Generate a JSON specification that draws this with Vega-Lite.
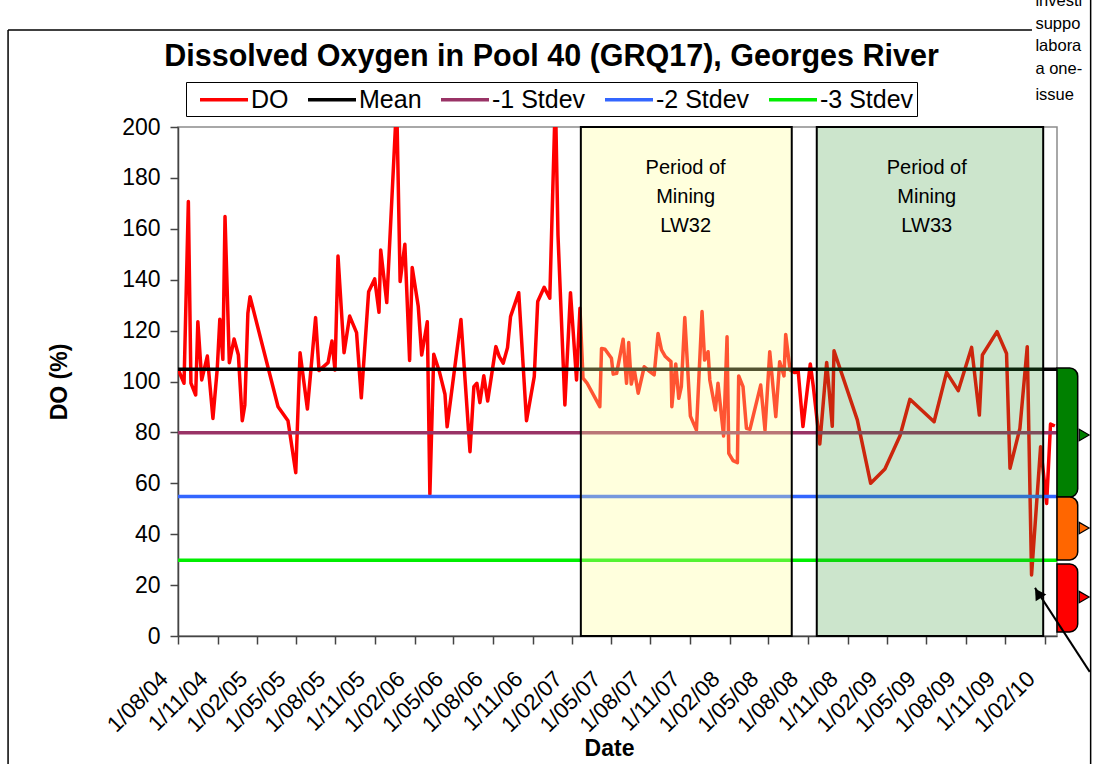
{
  "$schema": "https://vega.github.io/schema/vega-lite/v6.json",
  "width": 879,
  "height": 509,
  "autosize": {"type": "none"},
  "padding": {"left": 178, "top": 127, "right": 37, "bottom": 128},
  "background": "white",
  "title": {
    "text": "Dissolved Oxygen in Pool 40 (GRQ17), Georges River",
    "anchor": "middle",
    "frame": "group",
    "font": "Liberation Sans",
    "fontSize": 30.5,
    "fontWeight": "bold",
    "color": "black",
    "baseline": "alphabetic",
    "offset": -123.4,
    "dx": -66
  },
  "config": {
    "font": "Liberation Sans",
    "view": {"stroke": "#8c8c8c", "strokeWidth": 1.5},
    "axis": {
      "labelFont": "Liberation Sans",
      "titleFont": "Liberation Sans",
      "labelColor": "black",
      "titleColor": "black",
      "grid": false,
      "domainColor": "#444444",
      "tickColor": "#444444",
      "domainWidth": 1.5,
      "tickWidth": 1.5,
      "tickSize": 8,
      "labelOverlap": false,
      "labelFlush": false
    }
  },
  "datasets": {
    "do": [
      {"date": "2004-08-02", "value": 104.5, "series": "DO"},
      {"date": "2004-08-15", "value": 99.3, "series": "DO"},
      {"date": "2004-08-25", "value": 170.7, "series": "DO"},
      {"date": "2004-08-31", "value": 99.4, "series": "DO"},
      {"date": "2004-09-11", "value": 94.7, "series": "DO"},
      {"date": "2004-09-16", "value": 123.5, "series": "DO"},
      {"date": "2004-09-25", "value": 100.6, "series": "DO"},
      {"date": "2004-10-08", "value": 110, "series": "DO"},
      {"date": "2004-10-21", "value": 85.5, "series": "DO"},
      {"date": "2004-10-31", "value": 105, "series": "DO"},
      {"date": "2004-11-06", "value": 124.5, "series": "DO"},
      {"date": "2004-11-13", "value": 108.7, "series": "DO"},
      {"date": "2004-11-18", "value": 164.8, "series": "DO"},
      {"date": "2004-11-28", "value": 107.4, "series": "DO"},
      {"date": "2004-12-09", "value": 116.7, "series": "DO"},
      {"date": "2004-12-19", "value": 110.4, "series": "DO"},
      {"date": "2004-12-28", "value": 84.6, "series": "DO"},
      {"date": "2005-01-03", "value": 90.8, "series": "DO"},
      {"date": "2005-01-10", "value": 126.8, "series": "DO"},
      {"date": "2005-01-15", "value": 133.3, "series": "DO"},
      {"date": "2005-03-21", "value": 90.1, "series": "DO"},
      {"date": "2005-04-13", "value": 84.6, "series": "DO"},
      {"date": "2005-05-01", "value": 64.2, "series": "DO"},
      {"date": "2005-05-11", "value": 111.3, "series": "DO"},
      {"date": "2005-05-28", "value": 89.2, "series": "DO"},
      {"date": "2005-06-16", "value": 125.1, "series": "DO"},
      {"date": "2005-06-24", "value": 104.3, "series": "DO"},
      {"date": "2005-07-15", "value": 107.4, "series": "DO"},
      {"date": "2005-07-24", "value": 115.9, "series": "DO"},
      {"date": "2005-07-31", "value": 104.5, "series": "DO"},
      {"date": "2005-08-07", "value": 149.3, "series": "DO"},
      {"date": "2005-08-21", "value": 111.3, "series": "DO"},
      {"date": "2005-09-03", "value": 125.7, "series": "DO"},
      {"date": "2005-09-19", "value": 119.2, "series": "DO"},
      {"date": "2005-09-30", "value": 93.6, "series": "DO"},
      {"date": "2005-10-17", "value": 135.3, "series": "DO"},
      {"date": "2005-10-31", "value": 140.3, "series": "DO"},
      {"date": "2005-11-10", "value": 127.2, "series": "DO"},
      {"date": "2005-11-14", "value": 151.7, "series": "DO"},
      {"date": "2005-11-28", "value": 131, "series": "DO"},
      {"date": "2005-12-21", "value": 210, "series": "DO"},
      {"date": "2005-12-29", "value": 139.3, "series": "DO"},
      {"date": "2006-01-09", "value": 153.9, "series": "DO"},
      {"date": "2006-01-20", "value": 108.3, "series": "DO"},
      {"date": "2006-01-26", "value": 144.8, "series": "DO"},
      {"date": "2006-02-09", "value": 129.6, "series": "DO"},
      {"date": "2006-02-17", "value": 110.4, "series": "DO"},
      {"date": "2006-03-02", "value": 123.5, "series": "DO"},
      {"date": "2006-03-08", "value": 55.7, "series": "DO"},
      {"date": "2006-03-17", "value": 110.7, "series": "DO"},
      {"date": "2006-03-30", "value": 103.9, "series": "DO"},
      {"date": "2006-04-12", "value": 95, "series": "DO"},
      {"date": "2006-04-17", "value": 82.2, "series": "DO"},
      {"date": "2006-05-19", "value": 124.4, "series": "DO"},
      {"date": "2006-06-09", "value": 72.4, "series": "DO"},
      {"date": "2006-06-18", "value": 98, "series": "DO"},
      {"date": "2006-06-25", "value": 99.3, "series": "DO"},
      {"date": "2006-07-02", "value": 91.7, "series": "DO"},
      {"date": "2006-07-11", "value": 102.3, "series": "DO"},
      {"date": "2006-07-20", "value": 92.3, "series": "DO"},
      {"date": "2006-08-08", "value": 113.7, "series": "DO"},
      {"date": "2006-08-16", "value": 109.8, "series": "DO"},
      {"date": "2006-08-25", "value": 107.2, "series": "DO"},
      {"date": "2006-09-04", "value": 113.3, "series": "DO"},
      {"date": "2006-09-11", "value": 125.5, "series": "DO"},
      {"date": "2006-09-30", "value": 134.9, "series": "DO"},
      {"date": "2006-10-18", "value": 84.6, "series": "DO"},
      {"date": "2006-11-05", "value": 101.9, "series": "DO"},
      {"date": "2006-11-13", "value": 131.4, "series": "DO"},
      {"date": "2006-11-28", "value": 137, "series": "DO"},
      {"date": "2006-12-11", "value": 132.7, "series": "DO"},
      {"date": "2006-12-24", "value": 212, "series": "DO"},
      {"date": "2006-12-30", "value": 157.6, "series": "DO"},
      {"date": "2007-01-15", "value": 90.8, "series": "DO"},
      {"date": "2007-01-28", "value": 134.9, "series": "DO"},
      {"date": "2007-02-11", "value": 100.6, "series": "DO"},
      {"date": "2007-02-19", "value": 128.8, "series": "DO"},
      {"date": "2007-02-26", "value": 101.3, "series": "DO"},
      {"date": "2007-03-07", "value": 99.5, "series": "DO"},
      {"date": "2007-04-06", "value": 90.1, "series": "DO"},
      {"date": "2007-04-10", "value": 113, "series": "DO"},
      {"date": "2007-04-18", "value": 112.7, "series": "DO"},
      {"date": "2007-05-03", "value": 109.1, "series": "DO"},
      {"date": "2007-05-07", "value": 102.9, "series": "DO"},
      {"date": "2007-05-15", "value": 103.2, "series": "DO"},
      {"date": "2007-05-30", "value": 116.6, "series": "DO"},
      {"date": "2007-06-07", "value": 99.3, "series": "DO"},
      {"date": "2007-06-12", "value": 115.3, "series": "DO"},
      {"date": "2007-06-18", "value": 99, "series": "DO"},
      {"date": "2007-06-25", "value": 104.5, "series": "DO"},
      {"date": "2007-07-04", "value": 95.4, "series": "DO"},
      {"date": "2007-07-18", "value": 105.8, "series": "DO"},
      {"date": "2007-07-31", "value": 103.9, "series": "DO"},
      {"date": "2007-08-10", "value": 102.6, "series": "DO"},
      {"date": "2007-08-19", "value": 118.9, "series": "DO"},
      {"date": "2007-08-27", "value": 112.4, "series": "DO"},
      {"date": "2007-09-05", "value": 109.8, "series": "DO"},
      {"date": "2007-09-18", "value": 107.8, "series": "DO"},
      {"date": "2007-09-20", "value": 90.1, "series": "DO"},
      {"date": "2007-09-29", "value": 106.9, "series": "DO"},
      {"date": "2007-10-06", "value": 93.4, "series": "DO"},
      {"date": "2007-10-12", "value": 98, "series": "DO"},
      {"date": "2007-10-20", "value": 125.1, "series": "DO"},
      {"date": "2007-11-02", "value": 86.4, "series": "DO"},
      {"date": "2007-11-16", "value": 80.9, "series": "DO"},
      {"date": "2007-11-29", "value": 127.5, "series": "DO"},
      {"date": "2007-12-05", "value": 108.4, "series": "DO"},
      {"date": "2007-12-13", "value": 111.7, "series": "DO"},
      {"date": "2007-12-17", "value": 100.6, "series": "DO"},
      {"date": "2007-12-30", "value": 88.8, "series": "DO"},
      {"date": "2008-01-05", "value": 99.3, "series": "DO"},
      {"date": "2008-01-18", "value": 78.6, "series": "DO"},
      {"date": "2008-01-26", "value": 117.6, "series": "DO"},
      {"date": "2008-01-30", "value": 71.8, "series": "DO"},
      {"date": "2008-02-09", "value": 68.9, "series": "DO"},
      {"date": "2008-02-19", "value": 68.1, "series": "DO"},
      {"date": "2008-02-22", "value": 102.2, "series": "DO"},
      {"date": "2008-03-03", "value": 98, "series": "DO"},
      {"date": "2008-03-11", "value": 81.6, "series": "DO"},
      {"date": "2008-03-19", "value": 81.2, "series": "DO"},
      {"date": "2008-04-13", "value": 98.6, "series": "DO"},
      {"date": "2008-04-23", "value": 80.9, "series": "DO"},
      {"date": "2008-05-04", "value": 111.7, "series": "DO"},
      {"date": "2008-05-18", "value": 86.2, "series": "DO"},
      {"date": "2008-05-27", "value": 107.8, "series": "DO"},
      {"date": "2008-06-06", "value": 102.2, "series": "DO"},
      {"date": "2008-06-10", "value": 118.5, "series": "DO"},
      {"date": "2008-06-20", "value": 104.5, "series": "DO"},
      {"date": "2008-07-01", "value": 103.5, "series": "DO"},
      {"date": "2008-07-09", "value": 103.9, "series": "DO"},
      {"date": "2008-07-20", "value": 82.3, "series": "DO"},
      {"date": "2008-08-06", "value": 106.9, "series": "DO"},
      {"date": "2008-08-13", "value": 98, "series": "DO"},
      {"date": "2008-08-28", "value": 75.4, "series": "DO"},
      {"date": "2008-09-13", "value": 107.5, "series": "DO"},
      {"date": "2008-09-26", "value": 82.4, "series": "DO"},
      {"date": "2008-09-30", "value": 112.1, "series": "DO"},
      {"date": "2008-11-23", "value": 84.9, "series": "DO"},
      {"date": "2008-12-24", "value": 60, "series": "DO"},
      {"date": "2009-01-26", "value": 65.6, "series": "DO"},
      {"date": "2009-03-02", "value": 78.7, "series": "DO"},
      {"date": "2009-03-25", "value": 93, "series": "DO"},
      {"date": "2009-05-20", "value": 84.2, "series": "DO"},
      {"date": "2009-06-18", "value": 103.6, "series": "DO"},
      {"date": "2009-07-15", "value": 96.4, "series": "DO"},
      {"date": "2009-08-15", "value": 113.4, "series": "DO"},
      {"date": "2009-09-02", "value": 86.8, "series": "DO"},
      {"date": "2009-09-09", "value": 110.4, "series": "DO"},
      {"date": "2009-10-13", "value": 119.6, "series": "DO"},
      {"date": "2009-11-04", "value": 111, "series": "DO"},
      {"date": "2009-11-12", "value": 65.9, "series": "DO"},
      {"date": "2009-12-05", "value": 81.6, "series": "DO"},
      {"date": "2009-12-22", "value": 113.7, "series": "DO"},
      {"date": "2010-01-01", "value": 24, "series": "DO"},
      {"date": "2010-01-22", "value": 74.4, "series": "DO"},
      {"date": "2010-02-05", "value": 52.1, "series": "DO"},
      {"date": "2010-02-14", "value": 83.3, "series": "DO"},
      {"date": "2010-02-24", "value": 82.5, "series": "DO"}
    ],
    "stats": [
      {"series": "-3 Stdev", "value": 29.8},
      {"series": "-2 Stdev", "value": 54.8},
      {"series": "-1 Stdev", "value": 79.9},
      {"series": "Mean", "value": 104.8}
    ],
    "periods": [
      {"period": "LW32", "start": "2007-02-21", "end": "2008-06-24", "mid": "2007-10-22", "label": "Period of\nMining\nLW32", "top": 187.8},
      {"period": "LW33", "start": "2008-08-21", "end": "2010-01-28", "mid": "2009-05-03", "label": "Period of\nMining\nLW33", "top": 187.8}
    ],
    "bands": [
      {"band": "upper", "start": "2010-03-01", "end": "2010-04-18", "tip": "2010-05-03", "low": 54.6, "high": 105.3, "mid": 79},
      {"band": "middle", "start": "2010-03-01", "end": "2010-04-18", "tip": "2010-05-03", "low": 29.9, "high": 54.6, "mid": 42.4},
      {"band": "lower", "start": "2010-03-01", "end": "2010-04-18", "tip": "2010-05-03", "low": 1.6, "high": 28.3, "mid": 15.3}
    ],
    "arrow": [
      {"x": "2010-05-16", "y": -14.1, "x2": "2010-01-09", "y2": 18.9, "hx": "2010-01-16", "hy": 16.8}
    ],
    "frame": [
      {"x": "2003-07-04", "x2": "2010-01-02", "y": 238.1, "y2": 238.1},
      {"x": "2003-07-04", "x2": "2003-07-04", "y": 238.1, "y2": -60},
      {"x": "2010-05-18", "x2": "2010-05-18", "y": 260, "y2": -60}
    ],
    "note": [
      {"t": "investi", "x": "2010-01-10", "y": 249.5},
      {"t": "suppo", "x": "2010-01-10", "y": 240.5},
      {"t": "labora", "x": "2010-01-10", "y": 231.8},
      {"t": "a one-", "x": "2010-01-10", "y": 222.8},
      {"t": "issue", "x": "2010-01-10", "y": 212.5}
    ]
  },
  "layer": [
    {
      "data": {"name": "do"},
      "mark": {"type": "line", "strokeWidth": 3.5, "strokeJoin": "round", "clip": true},
      "encoding": {
        "x": {
          "field": "date",
          "type": "temporal",
          "scale": {"type": "utc", "domain": [1091318400000, 1267401600000], "nice": false},
          "axis": {
            "title": "Date",
            "titleFontSize": 23,
            "titleFontWeight": "bold",
            "titleX": 431,
            "titleY": 101.7,
            "titleBaseline": "top",
            "format": "%-d/%m/%y",
            "labelAngle": -45,
            "labelAlign": "right",
            "labelBaseline": "middle",
            "labelFontSize": 22.5,
            "labelPadding": 31,
            "labelOffset": -14,
            "labelOverlap": false,
            "labelFlush": false,
            "labelBound": false,
            "tickCount": 40,
            "values": [1091318400000, 1099267200000, 1107216000000, 1114905600000, 1122854400000, 1130803200000, 1138752000000, 1146441600000, 1154390400000, 1162339200000, 1170288000000, 1177977600000, 1185926400000, 1193875200000, 1201824000000, 1209600000000, 1217548800000, 1225497600000, 1233446400000, 1241136000000, 1249084800000, 1257033600000, 1264982400000]
          }
        },
        "y": {
          "field": "value",
          "type": "quantitative",
          "scale": {"domain": [0, 200], "nice": false, "zero": false},
          "axis": {
            "title": "DO (%)",
            "titleFontSize": 23,
            "titleFontWeight": "bold",
            "titlePadding": 50,
            "labelFontSize": 23,
            "labelPadding": 10,
            "tickCount": 20,
            "values": [0, 20, 40, 60, 80, 100, 120, 140, 160, 180, 200]
          }
        },
        "color": {
          "field": "series",
          "type": "nominal",
          "scale": {"domain": ["DO", "Mean", "-1 Stdev", "-2 Stdev", "-3 Stdev"], "range": ["#ff0000", "#000000", "#993366", "#3366ff", "#00ee00"]},
          "legend": {
            "orient": "none",
            "legendX": 8,
            "legendY": -45,
            "direction": "horizontal",
            "title": null,
            "symbolType": "M-0.28,0H3.56",
            "symbolStrokeWidth": 3.5,
            "symbolSize": 625,
            "labelFontSize": 25,
            "labelFont": "Liberation Sans",
            "labelColor": "black",
            "labelOffset": 33,
            "columnPadding": 8,
            "padding": 3,
            "strokeColor": "black",
            "fillColor": "white"
          }
        }
      }
    },
    {
      "data": {"name": "stats"},
      "mark": {"type": "rule", "strokeWidth": 3.5},
      "encoding": {
        "y": {"field": "value", "type": "quantitative"},
        "color": {"field": "series", "type": "nominal"}
      }
    },
    {
      "data": {"name": "periods"},
      "mark": {"type": "rect", "stroke": "black", "strokeWidth": 2, "strokeOpacity": 1},
      "encoding": {
        "x": {"field": "start", "type": "temporal"},
        "x2": {"field": "end"},
        "fill": {"condition": {"test": "datum.period === 'LW32'", "value": "#ffff99"}, "value": "#339933"},
        "fillOpacity": {"condition": {"test": "datum.period === 'LW32'", "value": 0.33}, "value": 0.25}
      }
    },
    {
      "data": {"name": "periods"},
      "mark": {"type": "text", "fontSize": 20, "lineBreak": "\n", "lineHeight": 29, "baseline": "top", "align": "center", "color": "black"},
      "encoding": {
        "x": {"field": "mid", "type": "temporal"},
        "y": {"field": "top", "type": "quantitative"},
        "text": {"field": "label"}
      }
    },
    {
      "data": {"name": "bands"},
      "mark": {"type": "rect", "stroke": "black", "strokeWidth": 1.5, "cornerRadiusTopRight": 8, "cornerRadiusBottomRight": 8},
      "encoding": {
        "x": {"field": "start", "type": "temporal"},
        "x2": {"field": "end"},
        "y": {"field": "low", "type": "quantitative"},
        "y2": {"field": "high"},
        "fill": {"condition": [{"test": "datum.band === 'upper'", "value": "#008000"}, {"test": "datum.band === 'middle'", "value": "#ff6600"}], "value": "#ff0000"}
      }
    },
    {
      "data": {"name": "bands"},
      "mark": {"type": "point", "shape": "triangle-right", "filled": true, "size": 130, "stroke": "black", "strokeWidth": 1.2, "opacity": 1},
      "encoding": {
        "x": {"field": "tip", "type": "temporal"},
        "y": {"field": "mid", "type": "quantitative"},
        "fill": {"condition": [{"test": "datum.band === 'upper'", "value": "#008000"}, {"test": "datum.band === 'middle'", "value": "#ff6600"}], "value": "#ff0000"}
      }
    },
    {
      "data": {"name": "arrow"},
      "mark": {"type": "rule", "stroke": "black", "strokeWidth": 2},
      "encoding": {
        "x": {"field": "x", "type": "temporal"},
        "x2": {"field": "x2"},
        "y": {"field": "y", "type": "quantitative"},
        "y2": {"field": "y2"}
      }
    },
    {
      "data": {"name": "arrow"},
      "mark": {"type": "point", "shape": "triangle-up", "filled": true, "size": 160, "color": "black", "angle": 327, "opacity": 1},
      "encoding": {
        "x": {"field": "hx", "type": "temporal"},
        "y": {"field": "hy", "type": "quantitative"}
      }
    },
    {
      "data": {"name": "frame"},
      "mark": {"type": "rule", "stroke": "black", "strokeWidth": 1.5},
      "encoding": {
        "x": {"field": "x", "type": "temporal"},
        "x2": {"field": "x2"},
        "y": {"field": "y", "type": "quantitative"},
        "y2": {"field": "y2"}
      }
    },
    {
      "data": {"name": "note"},
      "mark": {"type": "text", "fontSize": 16.5, "align": "left", "baseline": "middle", "color": "black"},
      "encoding": {
        "x": {"field": "x", "type": "temporal"},
        "y": {"field": "y", "type": "quantitative"},
        "text": {"field": "t"}
      }
    }
  ]
}
